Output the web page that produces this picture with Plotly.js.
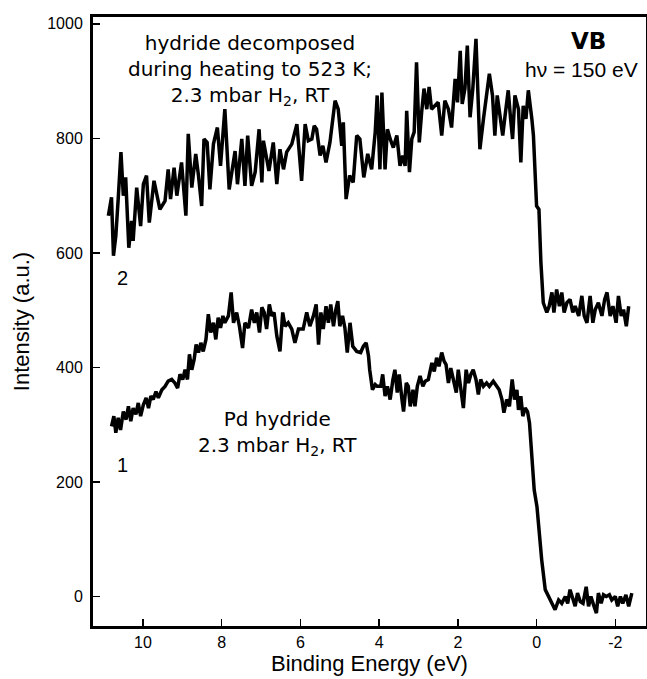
<!DOCTYPE html>
<html>
<head>
<meta charset="utf-8">
<script src="https://cdn.plot.ly/plotly-3.0.1.min.js"></script>
<style>
html,body{margin:0;padding:0;background:#fff;}
#chart{width:647px;height:679px;}
</style>
</head>
<body>
<div id="chart"></div>
<script>
// Curve 2: hydride decomposed during heating to 523 K; 2.3 mbar H2, RT
const energy2 = [10.88,10.80,10.75,10.69,10.63,10.56,10.50,10.44,10.36,10.29,10.25,10.16,10.06,9.99,9.91,9.84,9.72,9.57,9.44,9.36,9.30,9.21,9.14,9.02,8.91,8.85,8.76,8.66,8.59,8.51,8.45,8.37,8.30,8.21,8.11,8.03,7.92,7.81,7.66,7.60,7.49,7.41,7.34,7.24,7.15,7.05,6.98,6.94,6.80,6.69,6.60,
 6.52,6.43,6.35,6.22,6.09,5.97,5.88,5.80,5.71,5.65,5.59,5.50,5.43,5.35,5.25,5.12,5.04,4.95,4.91,4.84,4.75,4.66,4.57,4.49,4.39,4.29,4.19,4.10,4.05,3.98,3.93,3.85,3.79,3.72,3.64,3.55,3.47,3.40,3.34,3.30,3.23,3.17,3.11,3.05,2.98,2.92,2.86,2.79,2.73,2.67,2.58,2.50,2.41,2.33,2.24,
 2.16,2.07,2.01,1.94,1.89,1.82,1.76,1.69,1.62,1.54,1.48,1.44,1.35,1.27,1.20,1.12,1.06,1.00,0.93,0.86,0.80,0.72,0.66,0.61,0.55,0.46,0.40,0.34,0.27,0.21,0.12,0.08,0.00,-0.06,-0.11,-0.17,-0.26,-0.32,-0.39,-0.44,-0.51,-0.58,-0.64,-0.70,-0.77,-0.85,-0.92,-0.98,-1.07,-1.15,-1.21,-1.28,-1.36,-1.43,-1.49,-1.57,-1.66,-1.73,-1.79,-1.87,-1.94,-2.02,-2.08,-2.15,-2.21,-2.28,-2.34];
const intensity2 = [665,697,595,630,694,776,700,732,609,656,621,714,647,720,735,653,726,676,691,746,694,749,700,758,665,808,714,773,735,682,799,793,711,790,819,752,851,711,778,720,799,717,805,717,741,816,723,796,743,793,720,
 781,746,776,790,825,726,825,796,799,822,816,770,787,758,793,866,851,787,828,694,735,723,805,799,732,773,746,811,875,746,880,746,816,799,784,805,752,770,752,848,741,799,811,933,793,846,887,851,890,851,857,863,805,866,851,
 819,904,863,953,860,887,962,837,887,974,840,781,834,881,913,875,805,875,834,805,840,884,834,799,875,851,758,857,834,884,834,805,682,676,583,513,496,507,531,496,536,507,531,496,513,519,496,507,490,525,490,478,525,478,501,513,490,519,531,490,507,478,525,490,501,472,507];

// Curve 1: Pd hydride, 2.3 mbar H2, RT
const energy1 = [10.80,10.74,10.69,10.63,10.57,10.50,10.43,10.37,10.31,10.25,10.18,10.12,10.06,9.99,9.92,9.86,9.80,9.74,9.67,9.61,9.52,9.44,9.36,9.27,9.19,9.12,9.06,8.99,8.93,8.87,8.82,8.76,8.70,8.65,8.59,8.53,8.47,8.40,8.34,8.28,8.21,8.15,8.09,8.03,7.97,7.92,7.83,7.76,7.70,7.62,7.55,7.47,7.41,7.32,7.24,7.17,7.11,7.04,6.98,6.92,6.86,6.79,6.73,6.67,6.60,6.52,6.45,6.39,6.31,6.22,6.14,6.05,
 5.93,5.84,5.76,5.67,5.60,5.54,5.48,5.42,5.35,5.29,5.23,5.16,5.10,5.05,5.00,4.93,4.87,4.81,4.74,4.67,4.57,4.47,4.40,4.33,4.27,4.24,4.17,4.10,4.05,3.96,3.91,3.85,3.79,3.72,3.65,3.60,3.54,3.49,3.42,3.38,3.31,3.26,3.21,3.14,3.09,3.03,2.96,2.89,2.83,2.75,2.66,2.60,2.54,2.48,2.41,2.35,2.30,2.24,2.18,2.11,2.04,1.99,1.93,1.86,1.79,1.73,1.67,1.61,1.54,1.48,1.42,1.35,1.27,1.20,
 1.10,1.01,0.95,0.88,0.83,0.76,0.69,0.62,0.56,0.50,0.46,0.40,0.35,0.29,0.23,0.18,0.12,0.06,-0.01,-0.07,-0.13,-0.22,-0.30,-0.39,-0.47,-0.56,-0.64,-0.73,-0.79,-0.85,-0.92,-0.98,-1.04,-1.11,-1.18,-1.26,-1.32,-1.38,-1.45,-1.52,-1.57,-1.64,-1.70,-1.77,-1.85,-1.91,-2.00,-2.06,-2.13,-2.19,-2.27,-2.34,-2.42];
const intensity1 = [297,315,286,312,291,323,309,332,306,329,318,338,315,335,347,329,350,344,358,347,361,367,376,379,373,364,388,379,396,379,423,396,414,440,426,443,428,449,493,461,478,449,487,469,490,478,490,531,478,496,472,434,478,469,501,478,496,461,505,496,467,510,490,496,455,428,496,472,478,467,443,467,
 467,496,472,490,510,440,496,467,507,478,510,472,501,516,472,490,469,426,478,437,428,426,437,443,420,396,361,370,367,367,388,350,367,344,379,396,356,388,344,323,373,367,332,361,332,367,385,367,376,379,408,393,417,402,426,411,405,373,399,379,356,396,367,329,396,373,388,396,379,353,379,367,373,367,
 376,367,361,344,321,344,332,379,344,361,326,350,315,329,323,303,251,186,157,105,64,12,0,-12,-23,-6,-12,0,-12,12,-6,-17,6,-9,-12,17,-17,0,-15,-29,6,-12,3,0,3,-6,0,-17,0,-12,3,-17,6];

const xTicks = [10, 8, 6, 4, 2, 0, -2];
const yTicks = [0, 200, 400, 600, 800, 1000];

const lineStyle = {color: '#000', width: 3.5};
const traces = [
  {x: energy2, y: intensity2, type: 'scatter', mode: 'lines', line: lineStyle, name: '2', showlegend: false},
  {x: energy1, y: intensity1, type: 'scatter', mode: 'lines', line: lineStyle, name: '1', showlegend: false}
];

const tickFont = {family: 'Liberation Sans, Arial, sans-serif', size: 16, color: '#000'};
const titleFont = {family: 'Liberation Sans, Arial, sans-serif', size: 22, color: '#000'};
const labelFont = {family: 'DejaVu Sans, sans-serif', size: 20, color: '#000'};

const layout = {
  width: 647, height: 679,
  margin: {l: 93, r: 1, t: 17, b: 53},
  paper_bgcolor: '#fff', plot_bgcolor: '#fff',
  xaxis: {
    range: [11.27, -2.78],
    tickvals: xTicks, ticktext: xTicks.map(String),
    ticks: 'inside', ticklen: 7, tickwidth: 1.5, tickcolor: '#000',
    showline: true, linecolor: '#000', linewidth: 3, mirror: true,
    showgrid: false, zeroline: false,
    tickfont: tickFont,
    title: {text: 'Binding Energy (eV)', font: titleFont, standoff: 2}
  },
  yaxis: {
    range: [-51.5, 1012],
    tickvals: yTicks, ticktext: yTicks.map(String),
    ticks: 'inside', ticklen: 7, tickwidth: 1.5, tickcolor: '#000',
    showline: true, linecolor: '#000', linewidth: 3, mirror: true,
    showgrid: false, zeroline: false,
    tickfont: tickFont,
    ticklabelstandoff: 4,
    title: {text: 'Intensity (a.u.)', font: titleFont, standoff: 12}
  },
  annotations: [
    {x: 7.28, y: 919, xref: 'x', yref: 'y', showarrow: false, xanchor: 'center', yanchor: 'middle', align: 'center',
     text: 'hydride decomposed<br>during heating to 523 K;<br>2.3 mbar H<sub>2</sub>, RT', font: labelFont},
    {x: -1.33, y: 970, xref: 'x', yref: 'y', showarrow: false, xanchor: 'center', yanchor: 'middle',
     text: '<b>VB</b>', font: {family: 'DejaVu Sans, sans-serif', size: 23, color: '#000'}},
    {x: -1.13, y: 921, xref: 'x', yref: 'y', showarrow: false, xanchor: 'center', yanchor: 'middle',
     text: 'h\u03bd = 150 eV', font: {family: 'Liberation Sans, Arial, sans-serif', size: 21, color: '#000'}},
    {x: 10.53, y: 556, xref: 'x', yref: 'y', showarrow: false, xanchor: 'center', yanchor: 'middle',
     text: '2', font: {family: 'Liberation Sans, Arial, sans-serif', size: 20, color: '#000'}},
    {x: 10.53, y: 230, xref: 'x', yref: 'y', showarrow: false, xanchor: 'center', yanchor: 'middle',
     text: '1', font: {family: 'Liberation Sans, Arial, sans-serif', size: 20, color: '#000'}},
    {x: 6.57, y: 285, xref: 'x', yref: 'y', showarrow: false, xanchor: 'center', yanchor: 'middle', align: 'center',
     text: 'Pd hydride<br>2.3 mbar H<sub>2</sub>, RT', font: labelFont}
  ]
};

Plotly.newPlot('chart', traces, layout, {displayModeBar: false, staticPlot: true});
</script>
</body>
</html>
